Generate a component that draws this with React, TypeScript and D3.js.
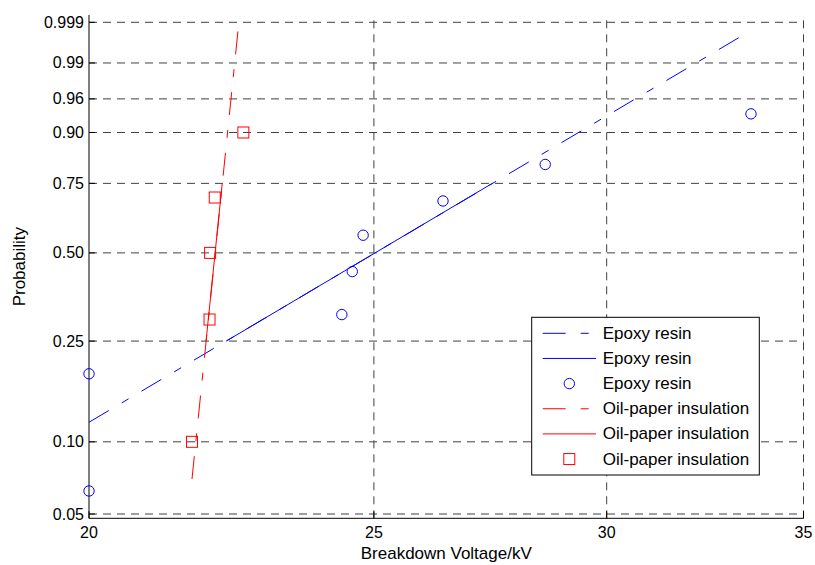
import React from 'react';
import * as d3 from 'd3';

// Weibull probability plot: breakdown voltage data
const epoxyVoltage = [20.0, 20.0, 24.38, 24.58, 24.79, 26.39, 28.59, 33.59];
const epoxyProb = [0.0625, 0.1875, 0.3125, 0.4375, 0.5625, 0.6875, 0.8125, 0.9375];
const oilVoltage = [21.68, 21.98, 21.99, 22.07, 22.57];
const oilProb = [0.1, 0.3, 0.5, 0.7, 0.9];

// reference lines (dashed = full extent, solid = quartile span)
const epoxyFitVoltage = [20.0, 33.38];
const epoxyFitProb = [0.1202, 0.9977];
const epoxyQuartVoltage = [22.27, 27.43];
const epoxyQuartProb = [0.25, 0.75];
const oilFitVoltage = [21.68, 22.48];
const oilFitProb = [0.0701, 0.9985];
const oilQuartVoltage = [21.92, 22.2];
const oilQuartProb = [0.25, 0.75];

const xTicks = [20, 25, 30, 35];
const yTicks = [0.05, 0.1, 0.25, 0.5, 0.75, 0.9, 0.96, 0.99, 0.999];
const yTickLabels = ['0.05', '0.10', '0.25', '0.50', '0.75', '0.90', '0.96', '0.99', '0.999'];

const legendLabels = ['Epoxy resin', 'Epoxy resin', 'Epoxy resin', 'Oil-paper insulation', 'Oil-paper insulation', 'Oil-paper insulation'];

const width = 815;
const height = 565;
const left = 89;
const right = 803.5;
const top = 15;
const bottom = 518.3;

const FONT = 'Liberation Sans, Arial, Helvetica, sans-serif';
const BLUE = '#0000ff';
const RED = '#ff0000';
const FIT_DASH = '23 15 8 15';

// weibull probability transform
const wbl = (p: number) => Math.log(-Math.log(1 - p));

const x = d3.scaleLog().domain([20, 35]).range([left, right]);
const y = d3.scaleLinear().domain([-3.013, 2.0055]).range([bottom, top]);

const pts = (v: number[], p: number[]) => v.map((d, i) => [x(d), y(wbl(p[i]))] as [number, number]);
const line = d3.line();

export default function App() {
  const legendX = 531.7;
  const legendY = 317.3;
  const legendW = 227.6;
  const legendH = 157.7;
  const rowY = (i: number) => 333.3 + i * 25.15;

  return (
    <svg width={width} height={height} style={{ position: 'absolute', left: 0, top: 0, background: '#fff' }}>
      <rect width={width} height={height} fill="#fff" />

      {/* grid */}
      <g stroke="#404040" strokeWidth={1} strokeDasharray="8 6" fill="none">
        {yTicks.map(t => (
          <line key={'gy' + t} x1={left} x2={right} y1={y(wbl(t))} y2={y(wbl(t))} />
        ))}
        {xTicks.slice(1).map(t => (
          <line key={'gx' + t} x1={x(t)} x2={x(t)} y1={bottom} y2={top} />
        ))}
      </g>

      {/* axes */}
      <g stroke="#000" strokeWidth={1}>
        <line x1={left} x2={left} y1={top} y2={bottom} />
        <line x1={left} x2={right} y1={bottom} y2={bottom} />
        {yTicks.map(t => (
          <line key={'ty' + t} x1={left} x2={left + 6} y1={y(wbl(t))} y2={y(wbl(t))} />
        ))}
        {xTicks.map(t => (
          <line key={'tx' + t} x1={x(t)} x2={x(t)} y1={bottom} y2={bottom - 7} />
        ))}
      </g>
      <g fontFamily={FONT} fontSize={16} fill="#000">
        {yTicks.map((t, i) => (
          <text key={'ly' + t} x={left - 5} y={y(wbl(t))} textAnchor="end" dominantBaseline="central">
            {yTickLabels[i]}
          </text>
        ))}
        {xTicks.map(t => (
          <text key={'lx' + t} x={x(t)} y={537.5} textAnchor="middle">
            {t}
          </text>
        ))}
      </g>
      <text x={(left + right) / 2} y={559} textAnchor="middle" fontFamily={FONT} fontSize={17}>
        Breakdown Voltage/kV
      </text>
      <text transform={`translate(25,${(top + bottom) / 2}) rotate(-90)`} textAnchor="middle" fontFamily={FONT} fontSize={17}>
        Probability
      </text>

      {/* fit lines */}
      <path d={line(pts(epoxyFitVoltage, epoxyFitProb)) || ''} stroke={BLUE} fill="none" strokeDasharray={FIT_DASH} />
      <path d={line(pts(epoxyQuartVoltage, epoxyQuartProb)) || ''} stroke={BLUE} fill="none" />
      <path d={line(pts(oilFitVoltage, oilFitProb)) || ''} stroke={RED} fill="none" strokeDasharray={FIT_DASH} />
      <path d={line(pts(oilQuartVoltage, oilQuartProb)) || ''} stroke={RED} fill="none" />

      {/* data markers */}
      {pts(epoxyVoltage, epoxyProb).map(([cx, cy], i) => (
        <circle key={'c' + i} cx={cx} cy={cy} r={5.2} fill="none" stroke={BLUE} strokeWidth={1} />
      ))}
      {pts(oilVoltage, oilProb).map(([cx, cy], i) => (
        <rect key={'s' + i} x={cx - 5.5} y={cy - 5.5} width={11} height={11} fill="none" stroke={RED} strokeWidth={1} />
      ))}

      {/* legend */}
      <rect x={legendX} y={legendY} width={legendW} height={legendH} fill="#fff" stroke="#000" strokeWidth={1} />
      {legendLabels.map((lab, i) => {
        const color = i < 3 ? BLUE : RED;
        const kind = i % 3;
        const ry = rowY(i);
        return (
          <g key={'lg' + i}>
            {kind === 0 && <line x1={542.7} x2={596} y1={ry} y2={ry} stroke={color} strokeDasharray={FIT_DASH} />}
            {kind === 1 && <line x1={542.7} x2={596} y1={ry} y2={ry} stroke={color} />}
            {kind === 2 && i < 3 && <circle cx={569.3} cy={ry} r={5.2} fill="none" stroke={color} />}
            {kind === 2 && i >= 3 && <rect x={569.3 - 5.5} y={ry - 5.5} width={11} height={11} fill="none" stroke={color} />}
            <text x={602.7} y={ry} dominantBaseline="central" fontFamily={FONT} fontSize={17}>
              {lab}
            </text>
          </g>
        );
      })}
    </svg>
  );
}
